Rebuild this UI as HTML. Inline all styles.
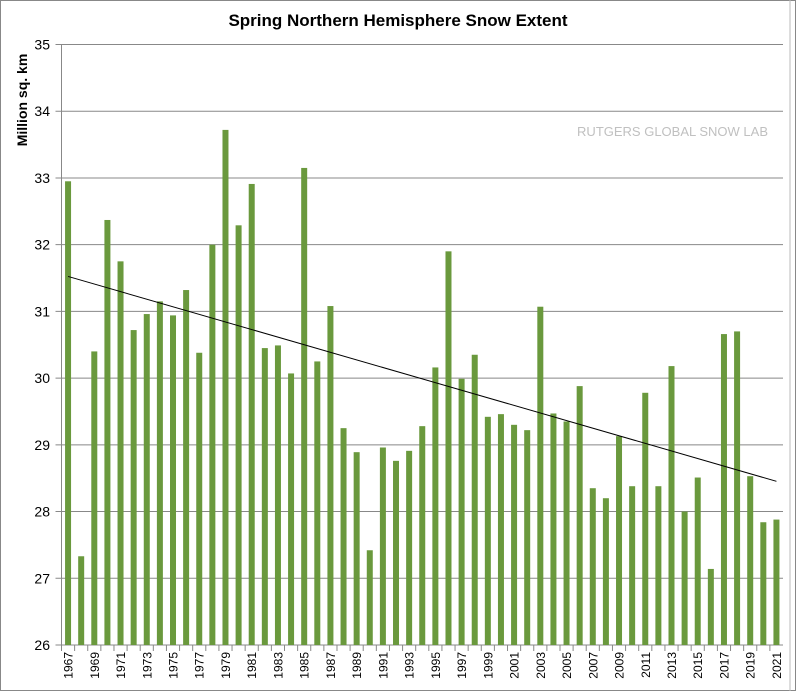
<!DOCTYPE html>
<html><head><meta charset="utf-8"><style>
body{margin:0;background:#fff;}
svg{display:block;font-family:"Liberation Sans",Arial,sans-serif;}
</style></head><body>
<svg id="chart" width="796" height="691" viewBox="0 0 796 691">
<rect x="0.5" y="0.5" width="795" height="690" fill="#fff" stroke="#888"/>
<line x1="790" y1="0" x2="790" y2="691" stroke="#bbb"/>
<text x="398" y="26" text-anchor="middle" font-size="17" font-weight="bold">Spring Northern Hemisphere Snow Extent</text>
<text transform="translate(27,100) rotate(-90)" text-anchor="middle" font-size="14" font-weight="bold">Million sq. km</text>
<text x="768" y="136" text-anchor="end" font-size="13" fill="#c0c0c0">RUTGERS GLOBAL SNOW LAB</text>
<g id="grid"></g><g id="bars"></g><g id="axes"></g><g id="trend"></g>
</svg>
<script>
const years = [];
for (let y = 1967; y <= 2021; y++) years.push(y);
const values = [32.95,27.33,30.40,32.37,31.75,30.72,30.96,31.15,30.94,31.32,30.38,32.00,33.72,32.29,32.91,30.45,30.49,30.07,33.15,30.25,31.08,29.25,28.89,27.42,28.96,28.76,28.91,29.28,30.16,31.90,29.99,30.35,29.42,29.46,29.30,29.22,31.07,29.47,29.35,29.88,28.35,28.20,29.13,28.38,29.78,28.38,30.18,28.00,28.51,27.14,30.66,30.70,28.53,27.84,27.88];
const yTicks = [26,27,28,29,30,31,32,33,34,35];

const NS = "http://www.w3.org/2000/svg";
const L = 61.5, R = 783, T = 44.5, B = 645;
const yMin = 26, yMax = 35;
const step = (R - L) / years.length;
function yScale(v){ return B - (v - yMin) / (yMax - yMin) * (B - T); }
function xCenter(i){ return L + step * (i + 0.5); }
function mk(tag, attrs, parent){ const e = document.createElementNS(NS, tag); for (const k in attrs) e.setAttribute(k, attrs[k]); parent.appendChild(e); return e; }

const grid = document.getElementById('grid');
const axes = document.getElementById('axes');
const barsG = document.getElementById('bars');
const trendG = document.getElementById('trend');

yTicks.forEach(t => {
  const y = yScale(t);
  const g = mk('line', {x1: L - 6, x2: R, y1: y, y2: y, stroke: '#888', 'stroke-width': 1}, grid);
  
  
  const tx = mk('text', {x: 50, y: y + 5, 'text-anchor': 'end', 'font-size': 14}, axes);
  tx.textContent = t;
  
  
});
const ya = mk('line', {x1: L, x2: L, y1: T, y2: B + 6, stroke: '#888'}, axes);



values.forEach((v, i) => {
  const cx = xCenter(i);
  const b = mk('rect', {x: cx - 3, y: yScale(v), width: 6, height: B - yScale(v), fill: '#6a993d'}, barsG);
  
  
  const tk = mk('line', {x1: L + step * i, x2: L + step * i, y1: B, y2: B + 6, stroke: '#888'}, axes);
  
  
  if (i % 2 === 0) {
    const lb = mk('text', {transform: 'translate(' + (cx + 4.5) + ',652) rotate(-90)', 'text-anchor': 'end', 'font-size': 12}, axes);
    lb.textContent = years[i];
    
    
  }
});

// linear trend from data
const n = values.length;
let sx = 0, sy = 0, sxx = 0, sxy = 0;
values.forEach((v, i) => { sx += i; sy += v; sxx += i * i; sxy += i * v; });
const slope = (n * sxy - sx * sy) / (n * sxx - sx * sx);
const icpt = (sy - slope * sx) / n;
const tl = mk('line', {x1: xCenter(0), y1: yScale(icpt), x2: xCenter(n - 1), y2: yScale(icpt + slope * (n - 1)), stroke: '#000', 'stroke-width': 1}, trendG);


</script>
</body></html>
